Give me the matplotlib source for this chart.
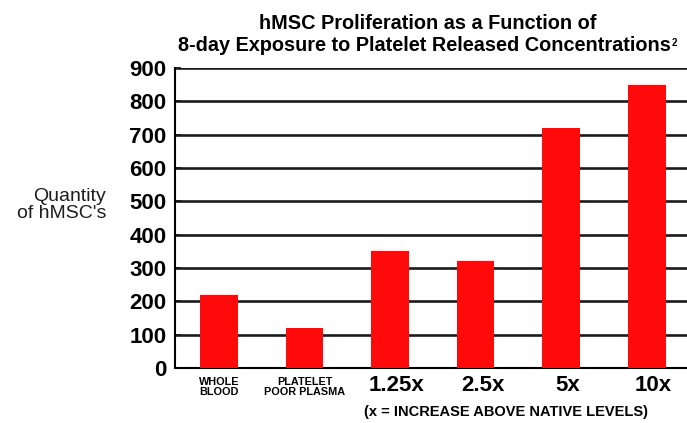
import numpy as np
import matplotlib.pyplot as plt

# values
groups = ["WHOLE\nBLOOD", "PLATELET\nPOOR PLASMA", "1.25x", "2.5x", "5x", "10x"]
cells = [220, 120, 350, 320, 720, 848]
yticks = [0, 100, 200, 300, 400, 500, 600, 700, 800, 900]

plt.rcParams['font.family'] = ['Liberation Sans', 'DejaVu Sans']

fig = plt.figure(figsize=(6.87, 4.23), dpi=100)
ax = fig.add_axes([175 / 687, 1 - 368 / 423, 1 - 175 / 687, 300 / 423])

x = np.arange(len(groups))
ax.bar(x, cells, width=0.44, color='#ff0a0a', zorder=3)

# heavy black grid lines
for v in yticks:
    ax.axhline(v, color='#1a1a1a', lw=1.9, zorder=2)

ax.set_xlim(-0.514, 5.47)
ax.set_ylim(0, 900)
ax.set_yticks(yticks)
ax.set_yticklabels([str(v) for v in yticks], fontsize=16, fontweight='bold')
ax.tick_params(axis='y', direction='in', length=4, width=1.2, pad=6)
ax.tick_params(axis='x', length=0)
ax.set_xticks([])

for s in ['top', 'right']:
    ax.spines[s].set_visible(False)
ax.spines['left'].set_linewidth(1.5)
ax.spines['bottom'].set_linewidth(1.5)
ax.spines['left'].set_zorder(4)

# category labels under bars
for i, g in enumerate(groups):
    if i < 2:
        ax.text(i, -28, g, ha='center', va='top', fontsize=7.8, fontweight='bold',
                linespacing=0.9, clip_on=False)
    else:
        ax.text(i + 0.08, -20, g, ha='center', va='top', fontsize=16, fontweight='bold',
                clip_on=False)

ax.text(3.36, -112, "(x = INCREASE ABOVE NATIVE LEVELS)", ha='center', va='top',
        fontsize=10.5, fontweight='bold', clip_on=False)

fig.text(106 / 687, 1 - 205 / 423, "Quantity\nof hMSC's", ha='right', va='center',
         fontsize=14, linespacing=1.0, color='#1e1e1e')

# two-line title, small superscript after the second line
fig.text(428 / 687, 1 - 14 / 423, "hMSC Proliferation as a Function of",
         ha='center', va='top', fontsize=14.3, fontweight='bold')
t2 = fig.text(424 / 687, 1 - 36 / 423, "8-day Exposure to Platelet Released Concentrations",
              ha='center', va='top', fontsize=14.3, fontweight='bold')
fig.canvas.draw()
bb = t2.get_window_extent().transformed(fig.transFigure.inverted())
fig.text(bb.x1 + 1 / 687, bb.y1 - 2 / 423, "2", ha='left', va='top',
         fontsize=7, fontweight='bold')

fig.savefig("out.png", dpi=100)
